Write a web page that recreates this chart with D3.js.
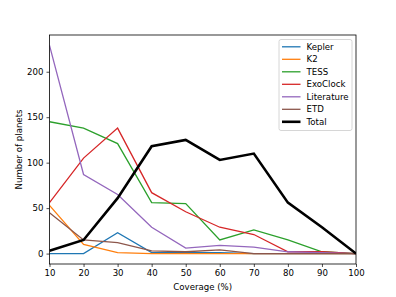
<!DOCTYPE html>
<html>
<head>
<meta charset="utf-8">
<script src="https://cdn.jsdelivr.net/npm/d3@7"></script>
<style>
  body { margin: 0; background: #fff; }
  text { font-family: "DejaVu Sans", sans-serif; }
</style>
</head>
<body>
<div id="chart"></div>
<script>
// coverage bins
var coverage = [10, 20, 30, 40, 50, 60, 70, 80, 90, 100]

var kepler = [0, 0, 23, 1, 1, 1, 0, 0, 0, 0]
var k2 = [53, 10, 1, 0, 0, 0, 0, 0, 0, 0]
var tess = [145, 138, 121, 56, 55, 15, 26, 15, 2, 0]
var exoclock = [56, 105, 138, 67, 46, 29, 21, 2, 2, 0]
var literature = [229, 87, 65, 29, 6, 9, 7, 2, 1, 0]
var etd = [45, 15, 12, 3, 2, 4, 0, 0, 0, 0]
var total = [3, 15, 61, 118, 125, 103, 110, 56, 29, 0]

var seriesNames = ['Kepler', 'K2', 'TESS', 'ExoClock', 'Literature', 'ETD', 'Total']
var seriesColors = ['#1f77b4', '#ff7f0e', '#2ca02c', '#d62728', '#9467bd', '#8c564b', '#000000']
var seriesValues = [kepler, k2, tess, exoclock, literature, etd, total]

var xTicks = [10, 20, 30, 40, 50, 60, 70, 80, 90, 100]
var yTicks = [0, 50, 100, 150, 200]

var W = 396, H = 297
var margin = { top: 35, right: 40, bottom: 33, left: 49.5 }
var width = W - margin.left - margin.right
var height = H - margin.top - margin.bottom

var x = d3.scaleLinear().domain([10, 100]).range([0, width])
var y = d3.scaleLinear().domain([-11.45, 240.4]).range([height, 0])

var svg = d3.select('#chart').append('svg')
  .attr('width', W)
  .attr('height', H)
  .append('g')
  .attr('transform', 'translate(' + margin.left + ',' + margin.top + ')')

var line = d3.line()
  .x(function (d, i) { return x(coverage[i]) })
  .y(function (d) { return y(d) })

svg.append('defs').append('clipPath').attr('id', 'clip')
  .append('rect').attr('width', width).attr('height', height)

var plot = svg.append('g').attr('clip-path', 'url(#clip)')

seriesValues.forEach(function (vals, k) {
  plot.append('path')
    .datum(vals)
    .attr('fill', 'none')
    .attr('stroke', seriesColors[k])
    .attr('stroke-width', k == 6 ? 2.6 : 1.3)
    .attr('stroke-linejoin', 'miter')
    .attr('d', line)
})

// axes
var xAxis = d3.axisBottom(x).tickValues(xTicks).tickSize(3).tickPadding(3)
var yAxis = d3.axisLeft(y).tickValues(yTicks).tickSize(3).tickPadding(3)

var gx = svg.append('g')
  .attr('transform', 'translate(0,' + height + ')')
  .call(xAxis)
var gy = svg.append('g').call(yAxis)

;[gx, gy].forEach(function (g) {
  g.select('.domain').remove()
  g.selectAll('line').attr('stroke', '#000').attr('stroke-width', 0.7)
  g.selectAll('text').attr('fill', '#000').style('font-size', '8.6px')
})

svg.append('rect')
  .attr('width', width)
  .attr('height', height)
  .attr('fill', 'none')
  .attr('stroke', '#000')
  .attr('stroke-width', 0.8)

svg.append('text')
  .attr('x', width / 2)
  .attr('y', height + 26)
  .attr('text-anchor', 'middle')
  .style('font-size', '8.6px')
  .text('Coverage (%)')

svg.append('text')
  .attr('transform', 'translate(' + (-28) + ',' + (height / 2) + ') rotate(-90)')
  .attr('text-anchor', 'middle')
  .style('font-size', '8.6px')
  .text('Number of planets')

// legend
var lg = svg.append('g').attr('transform', 'translate(' + (279 - margin.left) + ',' + (39.5 - margin.top) + ')')
lg.append('rect')
  .attr('width', 73)
  .attr('height', 91)
  .attr('rx', 2)
  .attr('fill', '#fff')
  .attr('fill-opacity', 0.8)
  .attr('stroke', '#ccc')
  .attr('stroke-width', 0.8)

seriesNames.forEach(function (name, k) {
  var yy = 7.3 + k * 12.5
  lg.append('line')
    .attr('x1', 3).attr('x2', 21.5)
    .attr('y1', yy).attr('y2', yy)
    .attr('stroke', seriesColors[k])
    .attr('stroke-width', k == 6 ? 2.6 : 1.3)
  lg.append('text')
    .attr('x', 27.5)
    .attr('y', yy + 3)
    .style('font-size', '8.6px')
    .text(name)
})
</script>
</body>
</html>
